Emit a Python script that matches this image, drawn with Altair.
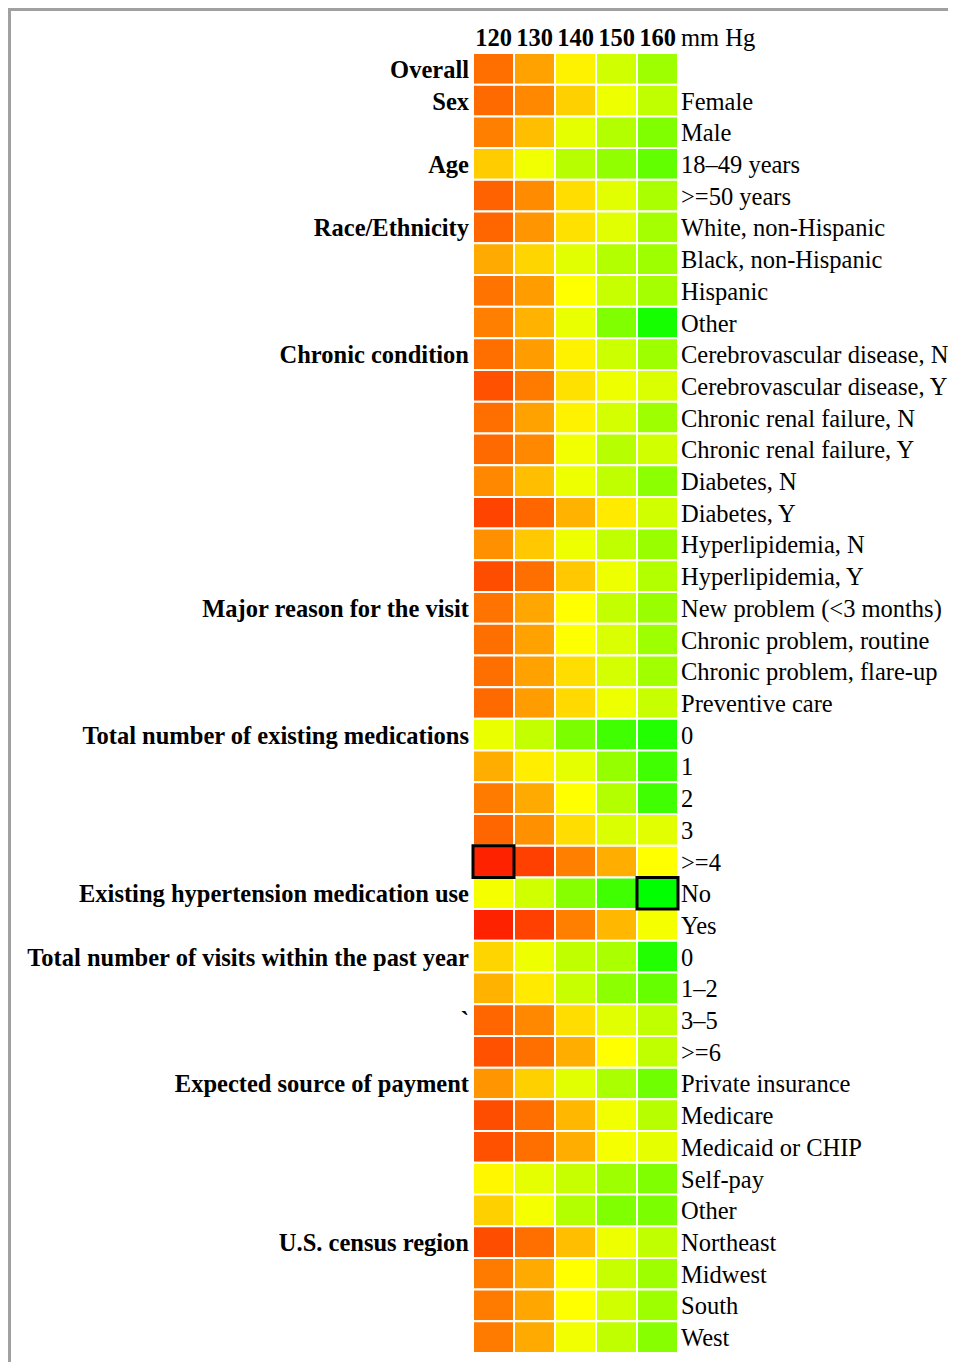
import altair as alt
import pandas as pd

columns = ["120", "130", "140", "150", "160"]

group_labels = [
    "Overall", "Sex", "", "Age", "", "Race/Ethnicity", "", "", "",
    "Chronic condition", "", "", "", "", "", "", "",
    "Major reason for the visit", "", "", "",
    "Total number of existing medications", "", "", "", "",
    "Existing hypertension medication use", "",
    "Total number of visits within the past year", "", "`", "",
    "Expected source of payment", "", "", "", "",
    "U.S. census region", "", "", "",
]

row_labels = [
    "", "Female", "Male", "18\u201349 years", ">=50 years",
    "White, non-Hispanic", "Black, non-Hispanic", "Hispanic", "Other",
    "Cerebrovascular disease, N", "Cerebrovascular disease, Y",
    "Chronic renal failure, N", "Chronic renal failure, Y",
    "Diabetes, N", "Diabetes, Y", "Hyperlipidemia, N", "Hyperlipidemia, Y",
    "New problem (<3 months)", "Chronic problem, routine",
    "Chronic problem, flare-up", "Preventive care",
    "0", "1", "2", "3", ">=4",
    "No", "Yes",
    "0", "1\u20132", "3\u20135", ">=6",
    "Private insurance", "Medicare", "Medicaid or CHIP", "Self-pay", "Other",
    "Northeast", "Midwest", "South", "West",
]

# colour value on a 0 (red) - 60 (yellow) - 120 (green) scale
v120 = [26, 25, 30, 48, 23, 24, 40, 27, 30, 26, 19, 26, 25, 32, 16, 34, 18,
        27, 26, 26, 25, 65, 41, 29, 24, 8, 62, 8, 50, 42, 24, 19, 35, 18, 19,
        58, 49, 18, 29, 29, 29]
v130 = [38, 32, 45, 63, 33, 35, 50, 37, 42, 37, 29, 38, 32, 45, 24, 47, 26,
        39, 38, 38, 37, 74, 56, 40, 34, 15, 71, 15, 64, 55, 32, 26, 49, 26, 26,
        66, 62, 26, 40, 39, 40]
v140 = [57, 49, 66, 77, 52, 53, 67, 60, 65, 57, 53, 57, 63, 64, 42, 64, 47,
        60, 60, 52, 51, 91, 66, 60, 52, 30, 88, 30, 75, 73, 52, 41, 67, 43, 41,
        73, 78, 45, 60, 60, 63]
v150 = [71, 64, 78, 86, 67, 67, 78, 73, 90, 72, 64, 70, 77, 75, 55, 75, 64,
        74, 69, 70, 64, 105, 85, 78, 69, 41, 105, 43, 80, 87, 67, 60, 80, 63, 62,
        83, 90, 64, 73, 71, 75]
v160 = [83, 75, 90, 97, 80, 81, 83, 81, 115, 83, 69, 83, 71, 87, 71, 84, 78,
        84, 83, 82, 73, 112, 105, 105, 67, 60, 120, 62, 112, 96, 75, 75, 94, 77, 66,
        90, 91, 75, 83, 83, 88]

highlight_rows = [25, 26]
highlight_cols = ["120", "160"]

FONT = "Liberation Serif"
FS = 24.5
W = 205
H = 1300
PAD_R = 270

series = [v120, v130, v140, v150, v160]
records = []
for ci, col in enumerate(columns):
    for ri in range(len(row_labels)):
        records.append({"row": ri, "col": col, "value": series[ci][ri]})
cells = pd.DataFrame(records)

labels_df = pd.DataFrame({
    "row": list(range(len(row_labels))),
    "group": group_labels,
    "label": row_labels,
})
hl_df = pd.DataFrame({"row": highlight_rows, "col": highlight_cols})

yenc = alt.Y("row:O", axis=None, scale=alt.Scale(paddingInner=0, paddingOuter=0))
xenc = alt.X(
    "col:N",
    sort=columns,
    scale=alt.Scale(domain=columns, paddingInner=0, paddingOuter=0),
    axis=alt.Axis(
        orient="top", title=None, domain=False, ticks=False, labelAngle=0,
        labelFont=FONT, labelFontSize=FS, labelFontWeight="bold",
        labelColor="black", labelPadding=3,
    ),
)

heat = alt.Chart(cells).mark_rect(stroke="white", strokeWidth=2).encode(
    x=xenc,
    y=yenc,
    color=alt.Color(
        "value:Q",
        scale=alt.Scale(domain=[0, 60, 120],
                        range=["#ff0000", "#ffff00", "#00ff00"],
                        interpolate="rgb"),
        legend=None,
    ),
)

highlight = alt.Chart(hl_df).mark_rect(
    fillOpacity=0, stroke="black", strokeWidth=3
).encode(x=xenc, y=yenc)

left_text = alt.Chart(labels_df).mark_text(
    align="right", baseline="middle", font=FONT, fontSize=FS,
    fontWeight="bold", color="black", dy=2,
).encode(x=alt.value(-4), y=yenc, text="group:N")

right_text = alt.Chart(labels_df).mark_text(
    align="left", baseline="middle", font=FONT, fontSize=FS, color="black", dy=2,
).encode(x=alt.value(W + 3), y=yenc, text="label:N")

unit_text = alt.Chart(pd.DataFrame({"t": ["mm Hg"]})).mark_text(
    align="left", baseline="middle", font=FONT, fontSize=FS, color="black",
).encode(x=alt.value(W + 3), y=alt.value(-14), text="t:N")

frame_left = alt.Chart(pd.DataFrame({"a": [1]})).mark_rule(
    color="#a0a0a0", strokeWidth=3
).encode(x=alt.value(-463.5), y=alt.value(-45), y2=alt.value(H + 9))

frame_top = alt.Chart(pd.DataFrame({"a": [1]})).mark_rule(
    color="#a0a0a0", strokeWidth=3
).encode(y=alt.value(-43.5), x=alt.value(-465), x2=alt.value(W + PAD_R))

chart = alt.layer(
    frame_left, frame_top, heat, highlight, left_text, right_text, unit_text
).properties(
    width=W, height=H,
    padding={"left": 465, "top": 45, "right": PAD_R, "bottom": 9},
    autosize=alt.AutoSizeParams(type="none"),
).configure_view(stroke=None)

chart.save("out.html", embed_options={"renderer": "svg", "actions": False})
